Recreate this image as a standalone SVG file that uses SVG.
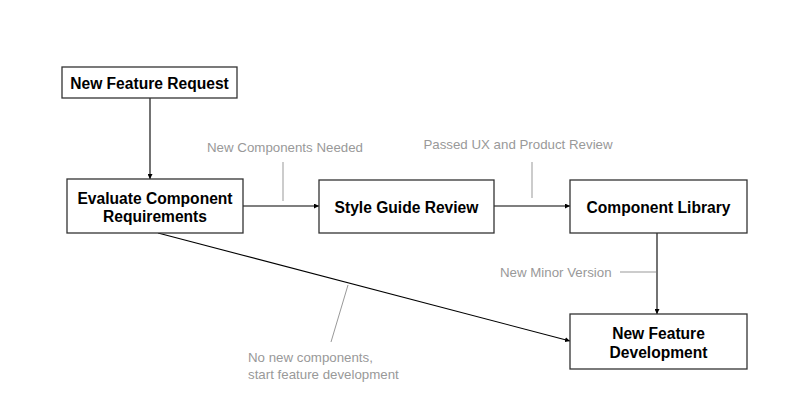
<svg xmlns="http://www.w3.org/2000/svg" width="800" height="419" viewBox="0 0 800 419">
<style>
.box{fill:#fff;stroke:#333;stroke-width:1.3}
.t{font-family:"Liberation Sans",Arial,sans-serif;font-weight:bold;font-size:15.6px;fill:#000;text-anchor:middle}
.lbl{font-family:"Liberation Sans",Arial,sans-serif;font-size:13.3px;fill:#999}
.c{stroke:#000;stroke-width:1.1;fill:none;marker-end:url(#ah)}
.ld{stroke:#999;stroke-width:1;fill:none}
</style>
<defs>
<marker id="ah" viewBox="0 0 10 10" refX="10" refY="5" markerWidth="5" markerHeight="5" markerUnits="userSpaceOnUse" orient="auto">
<path d="M0,0 L10,5 L0,10 z" fill="#000"/>
</marker>
</defs>
<rect width="800" height="419" fill="#fff"/>
<g id="connectors">
<line class="c" x1="150" y1="98" x2="150" y2="179"/>
<line class="c" x1="243" y1="206" x2="319" y2="206"/>
<line class="c" x1="494" y1="206" x2="570" y2="206"/>
<line class="c" x1="657" y1="233" x2="657" y2="314"/>
<line class="c" x1="158" y1="233" x2="570" y2="341"/>
<line class="ld" x1="283" y1="162" x2="283" y2="201"/>
<line class="ld" x1="532" y1="162" x2="532" y2="198"/>
<line class="ld" x1="620" y1="272" x2="656" y2="272"/>
<line class="ld" x1="348" y1="285" x2="331" y2="342"/>
<text class="lbl" x="285" y="152" text-anchor="middle">New Components Needed</text>
<text class="lbl" x="518" y="149" text-anchor="middle">Passed UX and Product Review</text>
<text class="lbl" x="500" y="277">New Minor Version</text>
<text class="lbl" x="248" y="362">No new components,</text>
<text class="lbl" x="248" y="379">start feature development</text>
</g>
<g id="n1"><rect class="box" x="62" y="67" width="175" height="31"/><text class="t" x="149.5" y="89">New Feature Request</text></g>
<g id="n2"><rect class="box" x="67" y="179" width="176" height="54"/><text class="t" x="155" y="204">Evaluate Component</text><text class="t" x="155" y="222">Requirements</text></g>
<g id="n3"><rect class="box" x="319" y="180" width="175" height="53"/><text class="t" x="406.5" y="213">Style Guide Review</text></g>
<g id="n4"><rect class="box" x="570" y="180" width="177" height="53"/><text class="t" x="658.5" y="213">Component Library</text></g>
<g id="n5"><rect class="box" x="570" y="314" width="177" height="55"/><text class="t" x="658.5" y="339">New Feature</text><text class="t" x="658.5" y="358">Development</text></g>
</svg>
